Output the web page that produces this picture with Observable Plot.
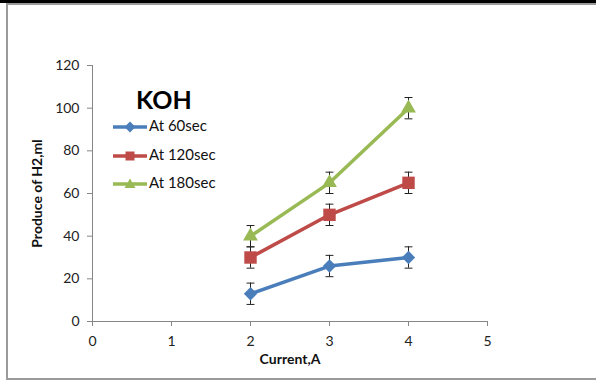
<!DOCTYPE html>
<html>
<head>
<meta charset="utf-8">
<script src="https://cdn.jsdelivr.net/npm/d3@7"></script>
<script src="https://cdn.jsdelivr.net/npm/@observablehq/plot@0.6"></script>
<style>
  html, body { margin: 0; padding: 0; background: #fff; }
  #wrap { position: relative; width: 596px; height: 381px; overflow: hidden; font-family: Lato, "Open Sans", sans-serif; }
  #topbar { position: absolute; left: 0; top: 0; width: 596px; height: 3px; background: #000; }
  #border { position: absolute; left: 6px; top: 3px; width: 600px; height: 373px; border-top: 2px solid #9a9a9a; border-left: 2px solid #9a9a9a; border-bottom: 2px solid #9a9a9a; }
  #chart { position: absolute; left: 0; top: 0; }
  #chart [aria-label="x-axis label"] text, #chart [aria-label="y-axis label"] text { font-weight: bold; font-size: 14px; fill: #111; }
  #legend { position: absolute; left: 113px; top: 84px; }
  #legend .title { position: absolute; left: 23px; top: 0; font-size: 25px; font-weight: bold; color: #000; white-space: nowrap; }
  #legend .item { position: absolute; left: 0; height: 20px; white-space: nowrap; font-size: 15px; color: #111; }
  #legend .item svg { vertical-align: middle; }
  #legend .item span { position: absolute; left: 36px; top: 0px; }
</style>
</head>
<body>
<div id="wrap">
  <div id="topbar"></div>
  <div id="border"></div>
  <div id="chart"></div>
  <div id="legend"></div>
</div>
<script>
const currents = [2, 3, 4];
const seriesNames = ["At 60sec", "At 120sec", "At 180sec"];
const h2At60 = [13, 26, 30];
const h2At120 = [30, 50, 65];
const h2At180 = [40, 65, 100];
const errorMl = [5, 5, 5];
const seriesColors = ["#4A7EBB", "#BE4B48", "#98B954"];
const seriesSymbols = ["diamond2", "square", "triangle"];
const xTicks = [0, 1, 2, 3, 4, 5];
const yTicks = [0, 20, 40, 60, 80, 100, 120];
const legendTitle = "KOH";

const allValues = [h2At60, h2At120, h2At180];
const rows = [];
seriesNames.forEach((s, i) => {
  currents.forEach((c, j) => {
    rows.push({series: s, current: c, value: allValues[i][j], err: errorMl[j], idx: i});
  });
});

const capHalf = 0.05;
const symbolR = [6, 7, 5.5];

const marks = [
  Plot.ruleY([0], {stroke: "#868686", strokeWidth: 1}),
  Plot.ruleX([0], {stroke: "#868686", strokeWidth: 1}),
  Plot.axisY({ticks: yTicks, tickSize: 5, tickPadding: 8, stroke: "#868686", fill: "#222", fontSize: 14,
    tickFormat: d3.format("d"),
    label: "Produce of H2,ml", labelAnchor: "center", labelArrow: "none", labelOffset: 60}),
  Plot.axisX({ticks: xTicks, tickSize: 5, tickPadding: 10, stroke: "#868686", fill: "#222", fontSize: 14,
    tickFormat: d3.format("d"),
    label: "Current,A", labelAnchor: "center", labelArrow: "none", labelOffset: 42}),
];

seriesNames.forEach((s, i) => {
  const d = rows.filter(r => r.idx === i);
  marks.push(Plot.line(d, {x: "current", y: "value", stroke: seriesColors[i], strokeWidth: 3.5}));
});
marks.push(Plot.ruleX(rows, {x: "current", y1: d => d.value - d.err, y2: d => d.value + d.err, stroke: "#222", strokeWidth: 1}));
marks.push(Plot.link(rows, {x1: d => d.current - capHalf, x2: d => d.current + capHalf, y1: d => d.value + d.err, y2: d => d.value + d.err, stroke: "#222", strokeWidth: 1}));
marks.push(Plot.link(rows, {x1: d => d.current - capHalf, x2: d => d.current + capHalf, y1: d => d.value - d.err, y2: d => d.value - d.err, stroke: "#222", strokeWidth: 1}));
seriesNames.forEach((s, i) => {
  const d = rows.filter(r => r.idx === i);
  marks.push(Plot.dot(d, {x: "current", y: "value", fill: seriesColors[i], stroke: "none", symbol: seriesSymbols[i], r: symbolR[i]}));
});

const chart = Plot.plot({
  width: 596, height: 381,
  marginLeft: 92, marginRight: 109, marginTop: 65, marginBottom: 60,
  style: {fontFamily: "Lato, 'Open Sans', sans-serif", fontSize: "14px", background: "transparent", color: "#222"},
  x: {domain: [0, 5]},
  y: {domain: [0, 120]},
  marks
});
document.getElementById("chart").appendChild(chart);

// legend
const legend = document.getElementById("legend");
const t = document.createElement("div");
t.className = "title";
t.textContent = legendTitle;
legend.appendChild(t);
const symPaths = {
  diamond2: "M17,4.5 L22.5,10 L17,15.5 L11.5,10 Z",
  square: "M12.5,5.5 H21.5 V14.5 H12.5 Z",
  triangle: "M17,4.5 L22.5,14 L11.5,14 Z"
};
seriesNames.forEach((s, i) => {
  const it = document.createElement("div");
  it.className = "item";
  it.style.top = (32 + i * 28.5) + "px";
  it.innerHTML = `<svg width="34" height="20"><line x1="0" y1="10" x2="34" y2="10" stroke="${seriesColors[i]}" stroke-width="3.5"/><path d="${symPaths[seriesSymbols[i]]}" fill="${seriesColors[i]}"/></svg><span>${s}</span>`;
  legend.appendChild(it);
});
</script>
</body>
</html>
